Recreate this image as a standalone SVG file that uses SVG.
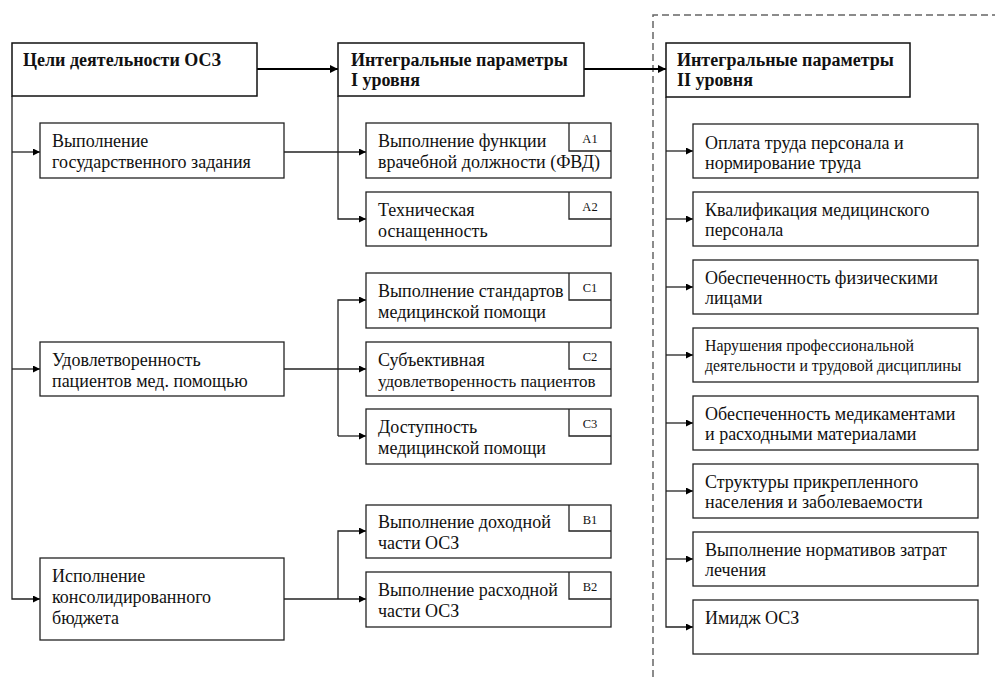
<svg xmlns="http://www.w3.org/2000/svg" width="995" height="677" viewBox="0 0 995 677">
<style>
.box{fill:#fff;stroke:#222;stroke-width:1.3}
.hdr{fill:#fff;stroke:#111;stroke-width:1.5}
.t{font-family:"Liberation Serif","Times New Roman",serif;font-size:18px;fill:#111}
.b{font-family:"Liberation Serif","Times New Roman",serif;font-size:18px;font-weight:bold;fill:#111}
.s{font-family:"Liberation Serif","Times New Roman",serif;font-size:15.8px;fill:#111}
.lb{font-family:"Liberation Serif","Times New Roman",serif;font-size:12.5px;fill:#111;text-anchor:middle}
.c{fill:none;stroke:#222;stroke-width:1.3}
.ct{fill:none;stroke:#000;stroke-width:2.2}
.dash{fill:none;stroke:#666;stroke-width:1.5;stroke-dasharray:7 4}
</style>
<defs>
<marker id="ar" viewBox="0 0 10 10" refX="10" refY="5" markerWidth="8" markerHeight="7" markerUnits="userSpaceOnUse" orient="auto"><path d="M0,0 L10,5 L0,10 z" fill="#000"/></marker>
<marker id="arT" viewBox="0 0 10 10" refX="10" refY="5" markerWidth="9" markerHeight="8" markerUnits="userSpaceOnUse" orient="auto"><path d="M0,0 L10,5 L0,10 z" fill="#000"/></marker>
</defs>
<path class="dash" d="M653,677 V15 H995"/>
<g id="connectors">
<path class="ct" d="M257,69 H338" marker-end="url(#arT)"/>
<path class="ct" d="M584,69 H666" marker-end="url(#arT)"/>
<path class="c" d="M12,96 V599 H40" marker-end="url(#ar)"/>
<path class="c" d="M12,152 H40" marker-end="url(#ar)"/>
<path class="c" d="M12,369 H40" marker-end="url(#ar)"/>
<path class="c" d="M284,152 H366" marker-end="url(#ar)"/>
<path class="c" d="M338,96 V219 H366" marker-end="url(#ar)"/>
<path class="c" d="M284,369 H366" marker-end="url(#ar)"/>
<path class="c" d="M338,436 V300 H366" marker-end="url(#ar)"/>
<path class="c" d="M338,436 H366" marker-end="url(#ar)"/>
<path class="c" d="M284,599 H366" marker-end="url(#ar)"/>
<path class="c" d="M338,599 V531 H366" marker-end="url(#ar)"/>
<path class="c" d="M666,97 V627 H693" marker-end="url(#ar)"/>
<path class="c" d="M666,151 H693" marker-end="url(#ar)"/>
<path class="c" d="M666,219 H693" marker-end="url(#ar)"/>
<path class="c" d="M666,287 H693" marker-end="url(#ar)"/>
<path class="c" d="M666,355 H693" marker-end="url(#ar)"/>
<path class="c" d="M666,423 H693" marker-end="url(#ar)"/>
<path class="c" d="M666,491 H693" marker-end="url(#ar)"/>
<path class="c" d="M666,559 H693" marker-end="url(#ar)"/>
</g>
<g id="goals">
<rect class="hdr" x="12" y="43" width="245" height="53"/>
<text class="b" x="23" y="66">Цели деятельности ОСЗ</text>
</g>
<g id="goal1">
<rect class="box" x="40" y="123" width="244" height="55"/>
<text class="t" x="52" y="147">Выполнение</text>
<text class="t" x="52" y="168">государственного задания</text>
</g>
<g id="goal2">
<rect class="box" x="40" y="342" width="244" height="54"/>
<text class="t" x="52" y="366">Удовлетворенность</text>
<text class="t" x="52" y="387">пациентов мед. помощью</text>
</g>
<g id="goal3">
<rect class="box" x="40" y="558" width="244" height="82"/>
<text class="t" x="52" y="582">Исполнение</text>
<text class="t" x="52" y="603">консолидированного</text>
<text class="t" x="52" y="624">бюджета</text>
</g>
<g id="level1">
<rect class="hdr" x="338" y="43" width="246" height="53"/>
<text class="b" x="351" y="66">Интегральные параметры</text>
<text class="b" x="351" y="86">I уровня</text>
</g>
<g id="A1">
<rect class="box" x="366" y="123" width="245" height="55"/>
<path class="c" d="M569,123 V151 H611"/>
<text class="lb" x="590" y="143">A1</text>
<text class="t" x="378" y="147">Выполнение функции</text>
<text class="t" x="378" y="168">врачебной должности (ФВД)</text>
</g>
<g id="A2">
<rect class="box" x="366" y="192" width="245" height="54"/>
<path class="c" d="M569,192 V219 H611"/>
<text class="lb" x="590" y="211">A2</text>
<text class="t" x="378" y="216">Техническая</text>
<text class="t" x="378" y="237">оснащенность</text>
</g>
<g id="C1">
<rect class="box" x="366" y="273" width="245" height="55"/>
<path class="c" d="M569,273 V300 H611"/>
<text class="lb" x="590" y="292">C1</text>
<text class="t" x="378" y="297">Выполнение стандартов</text>
<text class="t" x="378" y="318">медицинской помощи</text>
</g>
<g id="C2">
<rect class="box" x="366" y="342" width="245" height="54"/>
<path class="c" d="M569,342 V369 H611"/>
<text class="lb" x="590" y="361">C2</text>
<text class="t" x="378" y="366">Субъективная</text>
<text class="t" x="378" y="387" style="font-size:17px">удовлетворенность пациентов</text>
</g>
<g id="C3">
<rect class="box" x="366" y="409" width="245" height="55"/>
<path class="c" d="M569,409 V436 H611"/>
<text class="lb" x="590" y="428">C3</text>
<text class="t" x="378" y="433">Доступность</text>
<text class="t" x="378" y="454">медицинской помощи</text>
</g>
<g id="B1">
<rect class="box" x="366" y="505" width="245" height="53"/>
<path class="c" d="M569,505 V531 H611"/>
<text class="lb" x="590" y="524">B1</text>
<text class="t" x="378" y="528">Выполнение доходной</text>
<text class="t" x="378" y="549">части ОСЗ</text>
</g>
<g id="B2">
<rect class="box" x="366" y="572" width="245" height="55"/>
<path class="c" d="M569,572 V599 H611"/>
<text class="lb" x="590" y="591">B2</text>
<text class="t" x="378" y="596">Выполнение расходной</text>
<text class="t" x="378" y="617">части ОСЗ</text>
</g>
<g id="level2">
<rect class="hdr" x="666" y="43" width="244" height="54"/>
<text class="b" x="677" y="66">Интегральные параметры</text>
<text class="b" x="677" y="86">II уровня</text>
</g>
<g id="p1">
<rect class="box" x="693" y="124" width="285" height="54"/>
<text class="t" x="705" y="149">Оплата труда персонала и</text>
<text class="t" x="705" y="169">нормирование труда</text>
</g>
<g id="p2">
<rect class="box" x="693" y="192" width="285" height="54"/>
<text class="t" x="705" y="216">Квалификация медицинского</text>
<text class="t" x="705" y="236">персонала</text>
</g>
<g id="p3">
<rect class="box" x="693" y="260" width="285" height="54"/>
<text class="t" x="705" y="284">Обеспеченность физическими</text>
<text class="t" x="705" y="304">лицами</text>
</g>
<g id="p4">
<rect class="box" x="693" y="328" width="285" height="54"/>
<text class="s" x="705" y="351">Нарушения профессиональной</text>
<text class="s" x="705" y="371">деятельности и трудовой дисциплины</text>
</g>
<g id="p5">
<rect class="box" x="693" y="396" width="285" height="54"/>
<text class="t" x="705" y="420">Обеспеченность медикаментами</text>
<text class="t" x="705" y="440">и расходными материалами</text>
</g>
<g id="p6">
<rect class="box" x="693" y="464" width="285" height="54"/>
<text class="t" x="705" y="488">Структуры прикрепленного</text>
<text class="t" x="705" y="508">населения и заболеваемости</text>
</g>
<g id="p7">
<rect class="box" x="693" y="532" width="285" height="54"/>
<text class="t" x="705" y="556">Выполнение нормативов затрат</text>
<text class="t" x="705" y="576">лечения</text>
</g>
<g id="p8">
<rect class="box" x="693" y="600" width="285" height="54"/>
<text class="t" x="705" y="624">Имидж ОСЗ</text>
</g>
</svg>
